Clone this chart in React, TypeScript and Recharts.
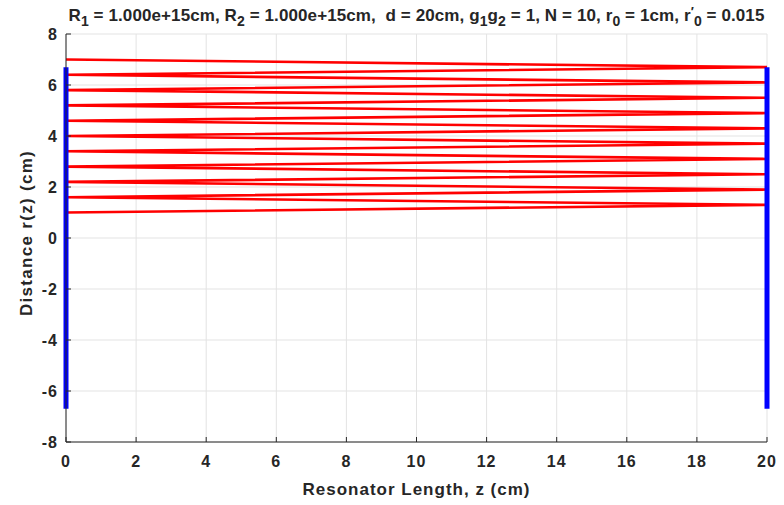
import { ComposedChart, Line, XAxis, YAxis, CartesianGrid, Label } from 'recharts';

// bounce points of the ray between the two flat mirrors
const bounceZ = [0, 20, 0, 20, 0, 20, 0, 20, 0, 20, 0, 20, 0, 20, 0, 20, 0, 20, 0, 20, 0];
const bounceR = [1.0, 1.3, 1.6, 1.9, 2.2, 2.5, 2.8, 3.1, 3.4, 3.7, 4.0, 4.3, 4.6, 4.9, 5.2, 5.5, 5.8, 6.1, 6.4, 6.7, 7.0];

// mirrors: position along z and half aperture
const mirrorZ = [0, 20];
const mirrorHalf = 6.7;

const xTicks = [0, 2, 4, 6, 8, 10, 12, 14, 16, 18, 20];
const yTicks = [-8, -6, -4, -2, 0, 2, 4, 6, 8];

const FONT = '"Liberation Sans", Arial, Helvetica, sans-serif';
const INK = '#262626';

const rayData = bounceZ.map((z, i) => ({ z, r: bounceR[i] }));
const mirrors = mirrorZ.map(z => [
  { z, r: -mirrorHalf },
  { z, r: mirrorHalf },
]);

const tickStyle = { fontSize: 16, fontWeight: 700, fill: INK, fontFamily: FONT, letterSpacing: 1 };
const sub = { fontSize: 14, verticalAlign: -5 };

export default function App() {
  return (
    <div style={{ position: 'absolute', left: 0, top: 0, width: 784, height: 505, background: '#fff', fontFamily: FONT }}>
      <div
        style={{
          position: 'absolute', left: 66, top: 2, width: 701, textAlign: 'center',
          fontSize: 17, fontWeight: 700, color: INK, whiteSpace: 'nowrap', lineHeight: '20px', letterSpacing: 0.1,
        }}
      >
        R<span style={sub}>1</span> = 1.000e+15cm, R<span style={sub}>2</span> = 1.000e+15cm,&nbsp; d = 20cm, g<span style={sub}>1</span>g<span style={sub}>2</span> = 1, N = 10, r<span style={sub}>0</span> = 1cm, r<span style={{ fontSize: 13, verticalAlign: 5 }}>′</span><span style={sub}>0</span> = 0.015
      </div>
      <ComposedChart width={784} height={505} margin={{ top: 34, right: 17, bottom: 0, left: 0 }}>
        <CartesianGrid stroke="#e3e3e3" strokeWidth={1} />
        <XAxis
          dataKey="z" type="number" domain={[0, 20]} ticks={xTicks}
          height={63} tickSize={-5} tickMargin={19} stroke={INK} tick={tickStyle}
        >
          <Label value="Resonator Length, z (cm)" position="insideBottom" offset={10}
            style={{ fontSize: 17, fontWeight: 700, fill: INK, fontFamily: FONT, letterSpacing: 1 }} />
        </XAxis>
        <XAxis xAxisId="top" orientation="top" type="number" domain={[0, 20]} ticks={xTicks}
          height={0} tickSize={-5} tick={false} stroke={INK} />
        <YAxis
          type="number" domain={[-8, 8]} ticks={yTicks}
          width={66} tickSize={-5} tickMargin={13} stroke={INK} tick={tickStyle}
        >
          <Label
            content={() => (
              <text x={26} y={233} transform="rotate(-90 26 233)" textAnchor="middle" dominantBaseline="central"
                style={{ fontSize: 17, fontWeight: 700, fill: INK, fontFamily: FONT, letterSpacing: 1.3 }}>
                Distance r(z) (cm)
              </text>
            )}
          />
        </YAxis>
        <YAxis yAxisId="right" orientation="right" type="number" domain={[-8, 8]} ticks={yTicks}
          width={0} tickSize={-5} tick={false} stroke={INK} />
        <Line data={rayData} dataKey="r" type="linear" stroke="#ff0000" strokeWidth={2.6}
          dot={false} isAnimationActive={false} />
        {mirrors.map((m, i) => (
          <Line key={i} data={m} dataKey="r" type="linear" stroke="#0000ff" strokeWidth={5}
            strokeLinecap="butt" dot={false} isAnimationActive={false} />
        ))}
      </ComposedChart>
    </div>
  );
}
